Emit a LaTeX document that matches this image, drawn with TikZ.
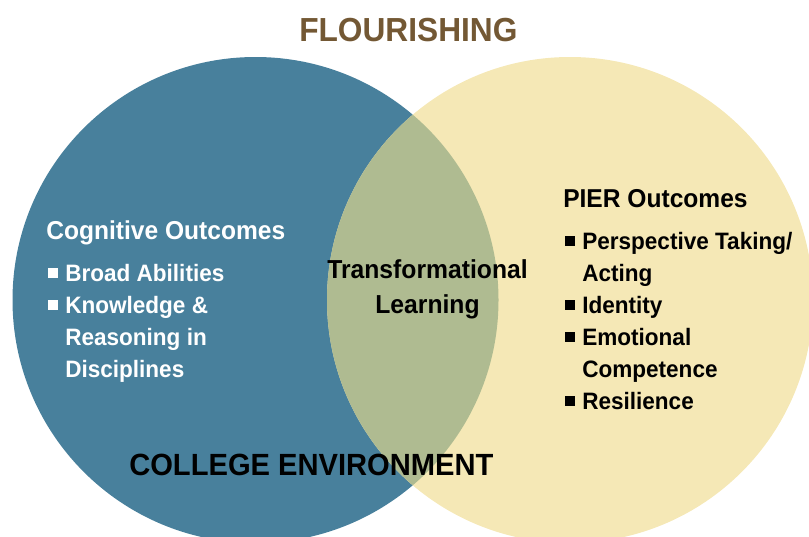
\documentclass[tikz,border=0pt]{standalone}
\usepackage{fontspec}
\setmainfont{Liberation Sans}[FakeStretch=0.95]
\usepackage{tikz}
\usetikzlibrary{positioning}

\definecolor{cogblue}{RGB}{72,128,156}
\definecolor{piercream}{RGB}{245,232,182}
\definecolor{overlapgreen}{RGB}{175,187,145}
\definecolor{flourbrown}{RGB}{115,88,52}

\newcommand{\sqbul}{\rule[2.5pt]{7pt}{7pt}\hspace{5.75pt}}
\newcommand{\nobul}{\hspace{12.75pt}}

\begin{document}
\begin{tikzpicture}[x=0.75pt,y=-0.75pt,
	txt/.style={inner sep=0pt,align=left,anchor=base west,font=\bfseries\fontsize{17.8}{24}\selectfont},
	head/.style={txt,font=\bfseries\fontsize{19.4}{24}\selectfont},
	big/.style={inner sep=0pt,anchor=base west,font=\bfseries\fontsize{23}{28}\selectfont}]
	\useasboundingbox (0,0) rectangle (809,536);
	\clip (0,0) rectangle (809,536);
	\coordinate (c_cog) at (255.5,300);
	\coordinate (c_pier) at (570,300);
	% the two sets
	\fill[cogblue] (c_cog) circle [radius=182.25pt];
	\fill[piercream] (c_pier) circle [radius=182.25pt];
	\begin{scope}
		\clip (c_cog) circle [radius=182.25pt];
		\fill[overlapgreen] (c_pier) circle [radius=182.25pt];
	\end{scope}
	% labels (multi-line nodes sit on their last baseline)
	\node[big,text=flourbrown,font=\bfseries\fontsize{25}{30}\selectfont] (flour) at (299,41) {FLOURISHING};
	\node[head,text=white] (cog_t) at (46,239) {Cognitive Outcomes};
	\node[txt,text=white] (cog_l) at (48,377) {\sqbul Broad Abilities\\ \sqbul Knowledge \&\\ \nobul Reasoning in\\ \nobul Disciplines};
	\node[head] (pier_t) at (563,207) {PIER Outcomes};
	\node[txt] (pier_l) at (565,409) {\sqbul Perspective Taking/\\ \nobul Acting\\ \sqbul Identity\\ \sqbul Emotional\\ \nobul Competence\\ \sqbul Resilience};
	\node[txt,align=center,anchor=base,font=\bfseries\fontsize{19.5}{26.25}\selectfont] (trans) at (427.5,313) {Transformational\\ Learning};
	\node[big] (env) at (129,475.5) {COLLEGE ENVIRONMENT};
\end{tikzpicture}
\end{document}
